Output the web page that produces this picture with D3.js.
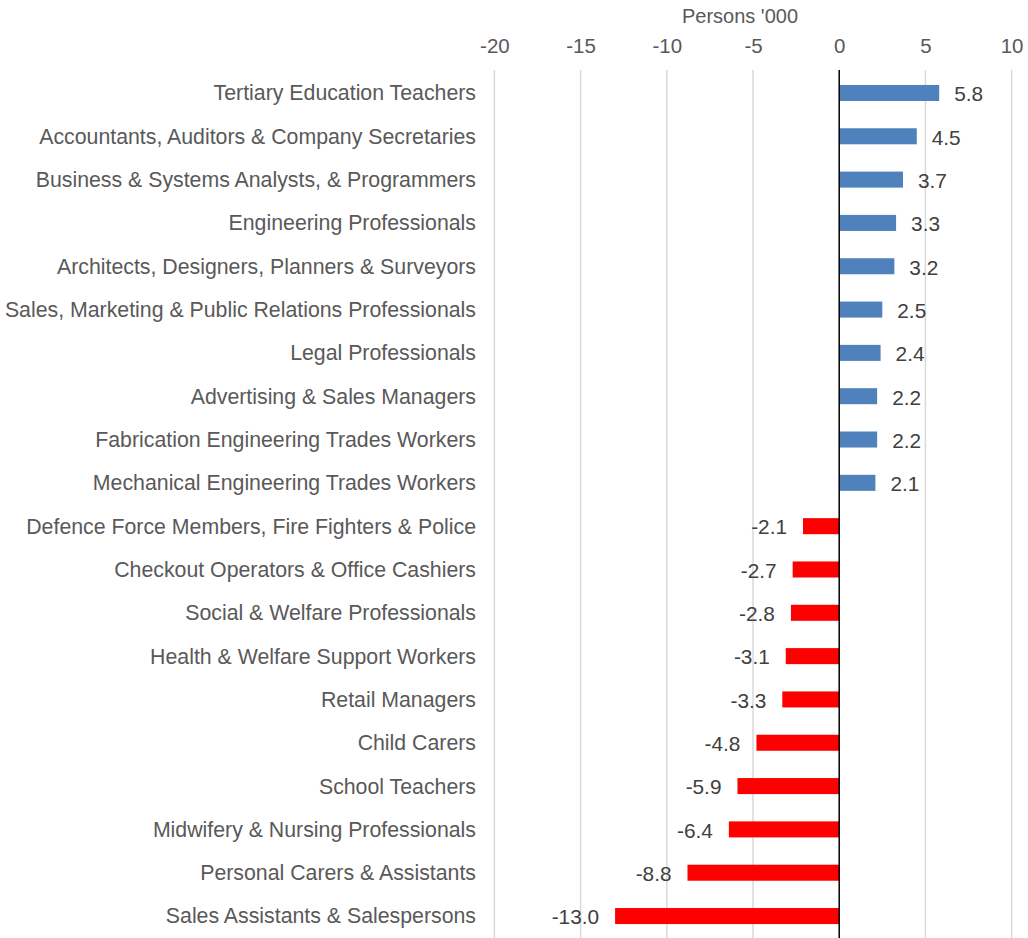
<!DOCTYPE html>
<html><head><meta charset="utf-8">
<script src="https://cdn.jsdelivr.net/npm/d3@7"></script>
<style>body{margin:0;background:#fff}svg{display:block}</style>
</head><body>
<script>
const categories = [
"Tertiary Education Teachers",
"Accountants, Auditors & Company Secretaries",
"Business & Systems Analysts, & Programmers",
"Engineering Professionals",
"Architects, Designers, Planners & Surveyors",
"Sales, Marketing & Public Relations Professionals",
"Legal Professionals",
"Advertising & Sales Managers",
"Fabrication Engineering Trades Workers",
"Mechanical Engineering Trades Workers",
"Defence Force Members, Fire Fighters & Police",
"Checkout Operators & Office Cashiers",
"Social & Welfare Professionals",
"Health & Welfare Support Workers",
"Retail Managers",
"Child Carers",
"School Teachers",
"Midwifery & Nursing Professionals",
"Personal Carers & Assistants",
"Sales Assistants & Salespersons"];
const values = [5.8,4.5,3.7,3.3,3.2,2.5,2.4,2.2,2.2,2.1,-2.1,-2.7,-2.8,-3.1,-3.3,-4.8,-5.9,-6.4,-8.8,-13.0];
const tickValues = [-20,-15,-10,-5,0,5,10];
const axisTitle = "Persons '000";

const W=1028,H=938;
const font="'Liberation Sans', Arial, sans-serif";
const svg=d3.select("body").append("svg").attr("width",W).attr("height",H);
const x=d3.scaleLinear().domain([-20,10]).range([494.4,1011.6]);
const y=d3.scaleBand().domain(categories).range([71.3,937.7]).paddingInner(0.63).paddingOuter(0.315);
const gridTop=70, gridBot=938;

// gridlines
svg.append("g").selectAll("line").data(tickValues.filter(d=>d!==0)).join("line")
  .attr("x1",d=>x(d)).attr("x2",d=>x(d)).attr("y1",gridTop).attr("y2",gridBot)
  .attr("stroke","#d9d9d9").attr("stroke-width",1.5);

// top axis tick labels
const ax=svg.append("g").attr("transform","translate(0,53)")
  .call(d3.axisTop(x).tickValues(tickValues).tickSize(0).tickPadding(0).tickFormat(d=>String(d)));
ax.select(".domain").remove();
ax.selectAll("text").attr("font-family",font).attr("font-size",20.5).attr("fill","#595959").attr("dy",0);

svg.append("text").attr("x",740).attr("y",23).attr("text-anchor","middle")
  .attr("font-family",font).attr("font-size",20).attr("fill","#595959").text(axisTitle);

// bars
svg.append("g").selectAll("rect").data(values).join("rect")
  .attr("x",(d)=>x(Math.min(0,d)))
  .attr("width",d=>Math.abs(x(d)-x(0)))
  .attr("y",(d,i)=>y(categories[i]))
  .attr("height",y.bandwidth())
  .attr("fill",d=>d>=0?"#4f81bd":"#ff0000");

// zero line
svg.append("line").attr("x1",x(0)).attr("x2",x(0)).attr("y1",gridTop).attr("y2",gridBot)
  .attr("stroke","#000").attr("stroke-width",1.5);

// category labels
svg.append("g").selectAll("text").data(categories).join("text")
  .attr("x",476).attr("y",d=>y(d)+y.bandwidth()/2).attr("dy","0.35em")
  .attr("text-anchor","end").attr("font-family",font).attr("font-size",21.3).attr("fill","#595959")
  .text(d=>d);

// value labels
svg.append("g").selectAll("text").data(values).join("text")
  .attr("x",d=>d>=0?x(d)+15:x(d)-16)
  .attr("y",(d,i)=>y(categories[i])+y.bandwidth()/2).attr("dy","0.4em")
  .attr("text-anchor",d=>d>=0?"start":"end")
  .attr("font-family",font).attr("font-size",20.8).attr("fill","#404040")
  .text(d=>d.toFixed(1));
</script>
</body></html>
